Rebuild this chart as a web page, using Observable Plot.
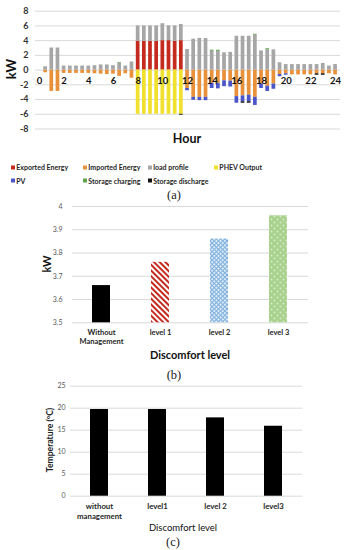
<!DOCTYPE html>
<html><head><meta charset="utf-8">
<script src="https://cdn.jsdelivr.net/npm/d3@7"></script>
<script src="https://cdn.jsdelivr.net/npm/@observablehq/plot@0.6"></script>
<style>
body{margin:0;background:#fff;}
#root{position:relative;width:345px;height:550px;overflow:hidden;font-family:Lato,"Open Sans",sans-serif;}
#root svg{position:absolute;left:0;}
.abs{position:absolute;white-space:nowrap;line-height:1;}
.c{transform:translate(-50%,-50%);}
.rot{transform:translate(-50%,-50%) rotate(-90deg);}
.cap{font-family:"Liberation Serif",serif;font-size:12.5px;color:#222;}
.lg{position:absolute;font-size:7px;font-weight:bold;color:#262626;transform:translateY(-50%);display:flex;align-items:center;white-space:nowrap;line-height:1;}
.lg i{display:inline-block;width:3.5px;height:3.5px;margin-right:1.8px;}
</style></head><body>
<svg width="0" height="0" style="position:absolute">
<defs>
<pattern id="stripeRed" width="4" height="4" patternUnits="userSpaceOnUse" patternTransform="rotate(-45)">
<rect width="4" height="4" fill="#fff"/><rect width="2" height="4" fill="#C42A1E"/>
</pattern>
<pattern id="checkBlue" width="3" height="3" patternUnits="userSpaceOnUse" patternTransform="rotate(45)">
<rect width="3" height="3" fill="#DDEBF7"/><path d="M0 0.5H3M0.5 0V3" stroke="#7FB0DD" stroke-width="1"/>
</pattern>
<pattern id="dotGreen" width="6" height="6" patternUnits="userSpaceOnUse">
<rect width="6" height="6" fill="#A9D18E"/><circle cx="1.5" cy="1.5" r="1" fill="#D5EBC6"/><circle cx="4.5" cy="4.5" r="1" fill="#D5EBC6"/>
</pattern>
</defs></svg>
<div id="root"></div>
<script>
// ---------- Panel (a) data ----------
const hours = [0.5,1,1.5,2,2.5,3,3.5,4,4.5,5,5.5,6,6.5,7,7.5,8,8.5,9,9.5,10,10.5,11,11.5,12,12.5,13,13.5,14,14.5,15,15.5,16,16.5,17,17.5,18,18.5,19,19.5,20,20.5,21,21.5,22,22.5,23,23.5,24];
const exported = [0,0,0,0,0, 0,0,0,0,0, 0,0,0,0,0, 3.9,3.9,3.9,3.9,4.0, 4.0,3.9,4.0,0,0, 0,0,0,0,0, 0,0,0,0,0, 0,0,0,0,0, 0,0,0,0,0, 0,0,0];
const imported = [-0.36,-2.9,-2.9,-0.45,-0.45, -0.45,-0.45,-0.45,-0.5,-0.55, -0.6,-0.55,-0.85,-0.5,-1.1, 0,0,0,0,0, 0,0,0,-2.5,-3.7, -3.7,-3.7,-1.8,-1.8,-1.45, -1.5,-3.6,-3.5,-3.4,-3.7, -1.9,-2.2,-1.9,-0.6,-0.5, -0.65,-0.65,-0.65,-0.65,-0.5, -0.5,-0.5,-0.65];
const loadProfile = [0.45,3.0,3.0,0.55,0.55, 0.55,0.55,0.55,0.6,0.7, 0.7,0.6,0.9,0.55,1.1, 2.1,2.1,2.1,2.1,2.3, 2.0,2.1,2.2,2.8,4.2, 4.3,4.3,2.55,2.55,2.35, 2.4,4.6,4.6,4.6,4.75, 2.6,2.75,2.75,1.0,0.75, 0.75,0.75,0.75,0.75,0.75, 0.9,0.55,0.75];
const phev = [0,0,0,0,0, 0,0,0,0,0, 0,0,0,0,0, -6,-6,-6,-6,-6, -6,-6,-6,0,0, 0,0,0,0,0, 0,0,0,0,0, 0,0,0,0,0, 0,0,0,0,0, 0,0,0];
const pv = [0,0,0,0,0, 0,0,0,0,0, 0,0,0,0,0, 0,0,0,0,0, 0,0,0,-0.3,-0.4, -0.45,-0.45,-0.7,-0.75,-0.8, -0.8,-0.9,-0.8,-0.9,-1.1, -0.6,-0.7,-0.7,-0.3,-0.2, 0,0,0,0,0, 0,0,0];
const storageCharging = [0,0,0,0,0, 0,0,0,0,0, 0,0,0.1,0,0, 0,0,0,0,0, 0,0,0,0,0, 0,0,0.15,0.15,0, 0,0,0,0,0.12, 0,0.15,0,0,0, 0,0,0,0,0, 0,0,0];
const storageDischarge = [0,0,0,0,0, 0,0,0,0,0, 0,0,0,0,0, 0,0,0,0,0, 0,0,-0.12,0,0, 0,0,0,0,0, 0,0,-0.2,-0.2,0, 0,0,0,0,0, 0,0,0,0,-0.2, -0.2,0,0];
const seriesNames = ["Exported Energy","Imported Energy","load profile","PHEV Output","PV","Storage charging","Storage discharge"];
const hourTicks = [0,2,4,6,8,10,12,14,16,18,20,22,24];
const kwTicksA = [-8,-6,-4,-2,0,2,4,6,8];

// ---------- Panel (b) data ----------
const levelsB = ["Without\nManagement","level 1","level 2","level 3"];
const peakKW = [3.66, 3.76, 3.86, 3.96];
const kwTicksB = [3.5,3.6,3.7,3.8,3.9,4];

// ---------- Panel (c) data ----------
const levelsC = ["without\nmanagement","level1","level 2","level3"];
const temperature = [19.7, 19.7, 17.8, 15.9];
const tempTicks = [0,5,10,15,20,25];

// ---------- styles ----------
const seriesColors = ["#C42A1E","#E8913A","#A6A6A6","#F0E12E","#4A55C9","#5FA34C","#111111"];
const barFillsB = ["#000000","url(#stripeRed)","url(#checkBlue)","url(#dotGreen)"];
const font = "Lato, 'Open Sans', sans-serif";

const root = document.getElementById("root");
function put(svg, top){ svg.style.top = top + "px"; root.appendChild(svg); }
function label(text, x, y, cls, css){
  const d = document.createElement("div");
  d.className = "abs " + cls; d.textContent = text;
  d.style.left = x + "px"; d.style.top = y + "px";
  Object.assign(d.style, css || {});
  root.appendChild(d);
}

// ---------- Panel (a) ----------
const seriesValues = [exported, imported, loadProfile, phev, pv, storageCharging, storageDischarge];
const rowsA = [];
seriesNames.forEach((s, i) => hours.forEach((t, j) => {
  const v = seriesValues[i][j];
  if (v) rowsA.push({t, series: s, v});
}));
const halfW = 0.15;
const chartA = Plot.plot({
  width: 345, height: 150, marginTop: 10.7, marginBottom: 21.5, marginLeft: 35, marginRight: 5,
  x: {type: "linear", domain: [-0.32, 24.4], axis: null},
  y: {domain: [-8, 8], axis: null},
  color: {domain: seriesNames, range: seriesColors},
  style: {background: "transparent", fontFamily: font},
  marks: [
    Plot.ruleY(kwTicksA, {stroke: "#D9D9D9", strokeWidth: 1}),
    Plot.rectY(rowsA, {x1: d => d.t - halfW, x2: d => d.t + halfW, y: "v", fill: "series"}),
    Plot.text(hourTicks, {x: d => d, y: 0, dy: 11, text: d => String(d), fontSize: 9.5, fontWeight: "bold", fill: "#111"}),
    Plot.text(kwTicksA, {y: d => d, text: d => String(d), frameAnchor: "left", dx: -7, textAnchor: "end", fontSize: 9, fontWeight: "bold", fill: "#333"})
  ]
});
put(chartA, 0);
label("kW", 11, 69, "rot", {fontSize: "13px", fontWeight: "bold", color: "#111"});
label("Hour", 187, 139, "c", {fontSize: "12.5px", fontWeight: "bold", color: "#111"});

// legend
const legendPos = [[11,167.3],[83,167.3],[148,167.3],[214,167.3],[11,180.7],[83,180.7],[148,180.7]];
seriesNames.forEach((s, i) => {
  const d = document.createElement("div");
  d.className = "lg";
  d.style.left = legendPos[i][0] + "px"; d.style.top = legendPos[i][1] + "px";
  const m = document.createElement("i"); m.style.background = seriesColors[i];
  d.appendChild(m); d.appendChild(document.createTextNode(s));
  root.appendChild(d);
});
label("(a)", 174, 195, "c cap");

// ---------- Panel (b) ----------
const baseB = kwTicksB[0];
const chartB = Plot.plot({
  width: 345, height: 160, marginTop: 6, marginBottom: 37.7, marginLeft: 72, marginRight: 37,
  x: {type: "band", domain: levelsB, paddingInner: 0.694, paddingOuter: 0.347, axis: null},
  y: {domain: [3.5, 4], axis: null},
  style: {background: "transparent", fontFamily: font},
  marks: [
    Plot.ruleY(kwTicksB, {stroke: "#D9D9D9", strokeWidth: 1}),
    ...levelsB.map((c, i) => Plot.barY([{c, v: peakKW[i]}], {x: "c", y1: baseB, y2: "v", fill: barFillsB[i]})),
    Plot.text(levelsB, {x: d => d, text: d => d, frameAnchor: "bottom", lineAnchor: "top", dy: 5.5, lineHeight: 1.2, fontSize: 7.5, fontWeight: "bold", fill: "#262626"}),
    Plot.text(kwTicksB, {y: d => d, text: d => String(d), frameAnchor: "left", dx: -10, textAnchor: "end", fontSize: 7, fill: "#595959"})
  ]
});
put(chartB, 200);
label("kW", 46, 264, "rot", {fontSize: "11px", fontWeight: "bold", color: "#111"});
label("Discomfort level", 190, 354, "c", {fontSize: "11px", fontWeight: "bold", color: "#111"});
label("(b)", 174, 375, "c cap");

// ---------- Panel (c) ----------
const dataC = levelsC.map((c, i) => ({c, v: temperature[i]}));
const chartC = Plot.plot({
  width: 345, height: 140, marginTop: 5.7, marginBottom: 24.3, marginLeft: 70, marginRight: 43,
  x: {type: "band", domain: levelsC, paddingInner: 0.69, paddingOuter: 0.345, axis: null},
  y: {domain: [0, 25], axis: null},
  style: {background: "transparent", fontFamily: font},
  marks: [
    Plot.ruleY(tempTicks, {stroke: "#D9D9D9", strokeWidth: 1}),
    Plot.barY(dataC, {x: "c", y: "v", fill: "#000"}),
    Plot.text(levelsC, {x: d => d, text: d => d, frameAnchor: "bottom", lineAnchor: "top", dy: 6.3, lineHeight: 1.25, fontSize: 7.8, fontWeight: "bold", fill: "#262626"}),
    Plot.text(tempTicks, {y: d => d, text: d => String(d), frameAnchor: "left", dx: -5, textAnchor: "end", fontSize: 7, fill: "#595959"})
  ]
});
put(chartC, 380);
label("Temperature (ºC)", 50, 440, "rot", {fontSize: "8.6px", fontWeight: "bold", color: "#222"});
label("Discomfort level", 183, 527.7, "c", {fontSize: "9.5px", color: "#111"});
label("(c)", 173, 541.7, "c cap");
</script>
</body></html>
